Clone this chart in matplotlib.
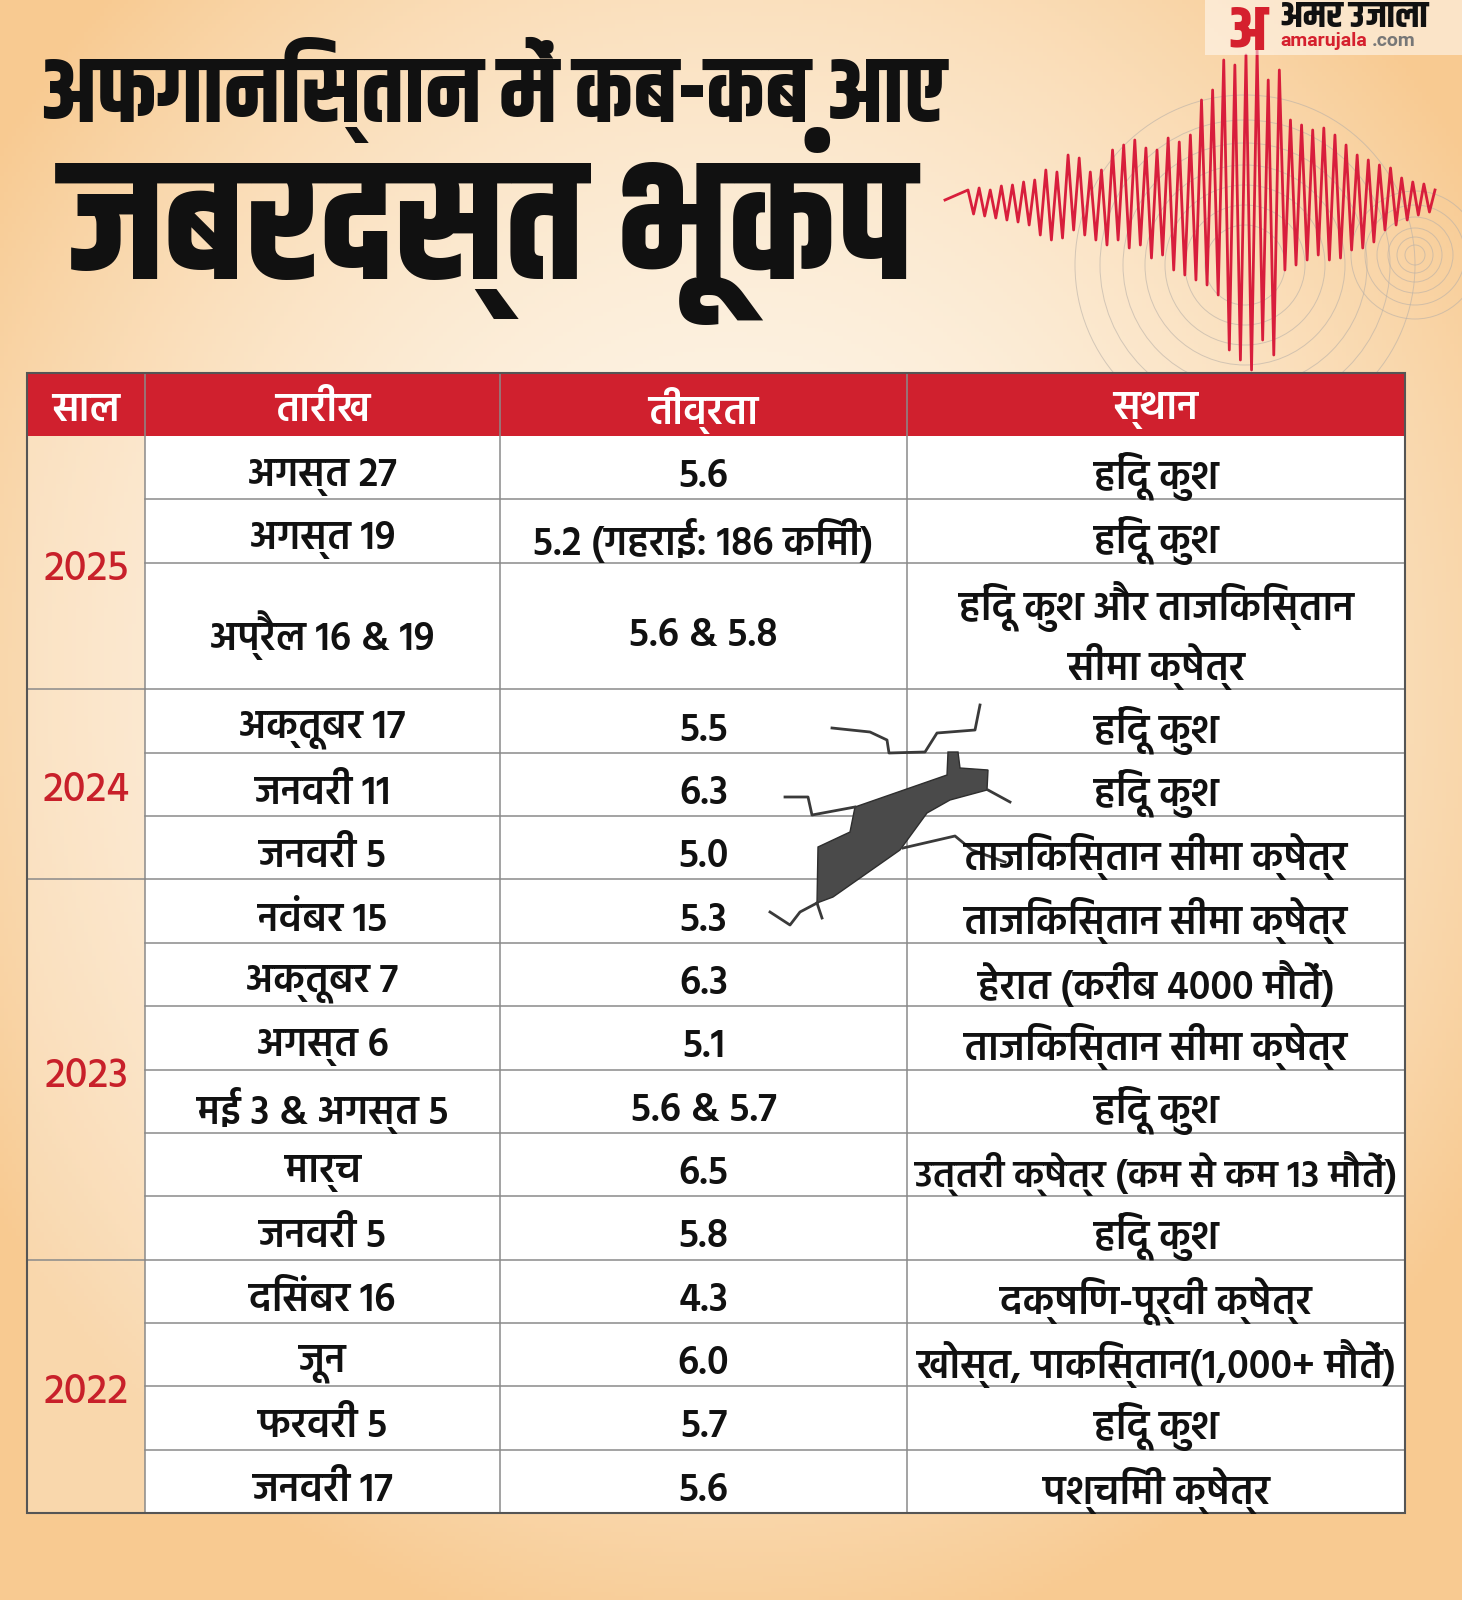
import numpy as np
import matplotlib
matplotlib.use('Agg')
import matplotlib.pyplot as plt
from matplotlib.patches import Rectangle, Polygon, Circle

# ---- data ----
title_1 = 'अफगानिस्तान में कब-कब आए'
title_2 = 'जबरदस्त भूकंप'
headers = ['साल', 'तारीख', 'तीव्रता', 'स्थान']

years = ['2025', '2024', '2023', '2022']
year_rows = [3, 3, 6, 4]

dates = ['अगस्त 27', 'अगस्त 19', 'अप्रैल 16 & 19',
         'अक्तूबर 17', 'जनवरी 11', 'जनवरी 5',
         'नवंबर 15', 'अक्तूबर 7', 'अगस्त 6', 'मई 3 & अगस्त 5', 'मार्च', 'जनवरी 5',
         'दिसंबर 16', 'जून', 'फरवरी 5', 'जनवरी 17']
magnitudes = ['5.6', '5.2 (गहराई: 186 किमी)', '5.6 & 5.8',
              '5.5', '6.3', '5.0',
              '5.3', '6.3', '5.1', '5.6 & 5.7', '6.5', '5.8',
              '4.3', '6.0', '5.7', '5.6']
places = ['हिंदू कुश', 'हिंदू कुश', 'हिंदू कुश और ताजिकिस्तान\nसीमा क्षेत्र',
          'हिंदू कुश', 'हिंदू कुश', 'ताजिकिस्तान सीमा क्षेत्र',
          'ताजिकिस्तान सीमा क्षेत्र', 'हेरात (करीब 4000 मौतें)', 'ताजिकिस्तान सीमा क्षेत्र',
          'हिंदू कुश', 'उत्तरी क्षेत्र (कम से कम 13 मौतें)', 'हिंदू कुश',
          'दक्षिण-पूर्वी क्षेत्र', 'खोस्त, पाकिस्तान(1,000+ मौतें)', 'हिंदू कुश', 'पश्चिमी क्षेत्र']
row_units = [1, 1, 2, 1, 1, 1, 1, 1, 1, 1, 1, 1, 1, 1, 1, 1]

# seismograph peak sizes (px)
quake_amp = [10, 14, 12, 16, 10, 18, 14, 20, 15, 22, 18, 25, 20,
             35, 30, 40, 28, 38, 45, 30, 42, 35, 28, 40,
             30, 45, 50, 40, 55, 48, 60, 45, 52, 58, 50,
             55, 62, 70, 58, 75, 65, 80, 100, 85, 110, 95,
             140, 150, 135, 160, 145, 170, 150, 140, 120, 155, 130,
             70, 80, 65, 75, 60, 70, 55, 72, 60, 65, 58,
             55, 50, 45, 48, 40, 42, 35, 30, 32, 25, 22, 20, 18, 15, 16, 12, 10]

# crack decoration outline
crack_body = [(818, 847), (850, 832), (855, 807), (947, 775), (948, 752), (958, 752),
              (960, 768), (988, 770), (987, 790), (950, 800), (927, 813), (900, 850),
              (833, 897), (817, 903)]
crack_lines = [[(832, 728), (870, 732), (887, 740), (889, 753), (925, 752), (937, 733), (975, 730), (980, 705)],
               [(785, 797), (808, 797), (812, 815), (855, 807)],
               [(903, 848), (955, 836), (972, 850), (1005, 862)],
               [(988, 790), (1010, 802)],
               [(817, 903), (800, 912), (790, 925), (770, 912)],
               [(817, 903), (822, 918)]]

title_font = ['Khand', 'DejaVu Sans']
body_font = ['Hind', 'DejaVu Sans']
plt.rcParams['font.family'] = body_font

W, H = 1462, 1600
fig = plt.figure(figsize=(W / 100, H / 100), dpi=100)
ax = fig.add_axes([0, 0, 1, 1])
ax.set_xlim(0, W)
ax.set_ylim(H, 0)
ax.axis('off')
renderer = fig.canvas.get_renderer()


def fit_width(t, width):
    bb = t.get_window_extent(renderer)
    t.set_fontsize(t.get_fontsize() * width / bb.width)


# background gradient
yy, xx = np.mgrid[0:H:4, 0:W:4]
d = np.sqrt(((xx - 730) / 880.0) ** 2 + ((yy - 680) / 980.0) ** 2)
d = np.clip(d, 0, 1)[..., None]
c_in = np.array([253, 245, 232]) / 255
c_out = np.array([248, 202, 145]) / 255
bg = c_in * (1 - d ** 2) + c_out * d ** 2
ax.imshow(bg, extent=[0, W, H, 0], aspect='auto', zorder=0)

# concentric circles behind seismograph
for r in [40, 60, 80, 100, 122, 145, 170]:
    ax.add_patch(Circle((1245, 265), r, fill=False, ec='#b8b0a8', lw=0.7, alpha=0.6, zorder=1))
for r in [10, 18, 27, 38, 50, 64]:
    ax.add_patch(Circle((1415, 255), r, fill=False, ec='#b8b0a8', lw=0.7, alpha=0.6, zorder=1))

# seismograph line
n = len(quake_amp)
sx = np.linspace(968, 1435, n)
sign = np.where(np.arange(n) % 2 == 0, -1, 1)
sy = 200 + sign * np.array(quake_amp)
ax.plot(np.r_[945, sx], np.r_[200, sy], color='#d81e3c', lw=2, zorder=2)

# logo
ax.add_patch(Rectangle((1205, 0), 257, 55, fc='white', alpha=0.5, ec='none', zorder=2))
ax.text(1247, 30, 'अ', color='#d5202e', fontsize=46, fontweight='bold', family=title_font,
        ha='center', va='center', zorder=3)
lg = ax.text(1280, 16, 'अमर उजाला', color='#111111', fontsize=24, fontweight='bold',
             family=title_font, ha='left', va='center', zorder=3)
fit_width(lg, 148)
ax.text(1280, 41, 'amarujala', color='#d5202e', fontsize=14, fontweight='bold',
        family=['Roboto', 'DejaVu Sans'], ha='left', va='center', zorder=3)
ax.text(1372, 41, '.com', color='#777777', fontsize=14, fontweight='bold',
        family=['Roboto', 'DejaVu Sans'], ha='left', va='center', zorder=3)

# titles
t1 = ax.text(40, 90, title_1, fontsize=60, fontweight='bold', color='#111111',
             family=title_font, ha='left', va='center', zorder=3)
fit_width(t1, 905)
t2 = ax.text(62, 226, title_2, fontsize=120, fontweight='bold', color='#111111',
             family=title_font, ha='left', va='center', zorder=3)
fit_width(t2, 853)

# ---- table ----
col_x = [27, 145, 500, 907, 1405]
top, head_bot, bot = 373, 436, 1513
unit = (bot - head_bot) / sum(row_units)
edges = head_bot + unit * np.r_[0, np.cumsum(row_units)]

red = '#d0202e'
ax.add_patch(Rectangle((col_x[0], top), col_x[-1] - col_x[0], head_bot - top,
                       fc=red, ec='none', zorder=3))
for i, h in enumerate(headers):
    ax.text((col_x[i] + col_x[i + 1]) / 2, (top + head_bot) / 2 + 6, h, color='white',
            fontsize=29, fontweight='semibold', ha='center', va='center', zorder=4)

ax.add_patch(Rectangle((col_x[1], head_bot), col_x[-1] - col_x[1], bot - head_bot,
                       fc='white', ec='none', zorder=3))
ax.add_patch(Rectangle((col_x[0], head_bot), col_x[1] - col_x[0], bot - head_bot,
                       fc='white', alpha=0.25, ec='none', zorder=3))

# row lines
for y in edges[1:-1]:
    ax.plot([col_x[1], col_x[-1]], [y, y], color='#8a8a8a', lw=1.1, zorder=5)
# year group lines
grp = np.cumsum([0] + year_rows)
for k, yr in enumerate(years):
    y0 = edges[grp[k]]
    y1 = edges[grp[k + 1]]
    if k > 0:
        ax.plot([col_x[0], col_x[1]], [y0, y0], color='#8a8a8a', lw=1.1, zorder=5)
    ax.text((col_x[0] + col_x[1]) / 2, (y0 + y1) / 2 + 6, yr, color='#c8202a',
            fontsize=30, fontweight='medium', ha='center', va='center', zorder=6)
# column lines
for x in col_x[1:-1]:
    ax.plot([x, x], [top, bot], color='#8a8a8a', lw=1.1, zorder=5)
ax.add_patch(Rectangle((col_x[0], top), col_x[-1] - col_x[0], bot - top,
                       fill=False, ec='#555555', lw=1.5, zorder=6))

# crack decoration
ax.add_patch(Polygon(crack_body, closed=True, fc='#4a4a4a', ec='#2e2e2e', lw=1, zorder=6))
for ln in crack_lines:
    p = np.array(ln)
    ax.plot(p[:, 0], p[:, 1], color='#3a3a3a', lw=2, zorder=6)

for r in range(len(dates)):
    yc = (edges[r] + edges[r + 1]) / 2 + 9
    row = [dates[r], magnitudes[r], places[r]]
    for c, s in enumerate(row):
        t = ax.text((col_x[c + 1] + col_x[c + 2]) / 2, yc, s, color='#111111',
                    fontsize=28.5, fontweight='semibold', ha='center', va='center',
                    linespacing=1.3, zorder=7)
        avail = col_x[c + 2] - col_x[c + 1] - 14
        if t.get_window_extent(renderer).width > avail:
            fit_width(t, avail)

fig.savefig('out.png', dpi=100)
